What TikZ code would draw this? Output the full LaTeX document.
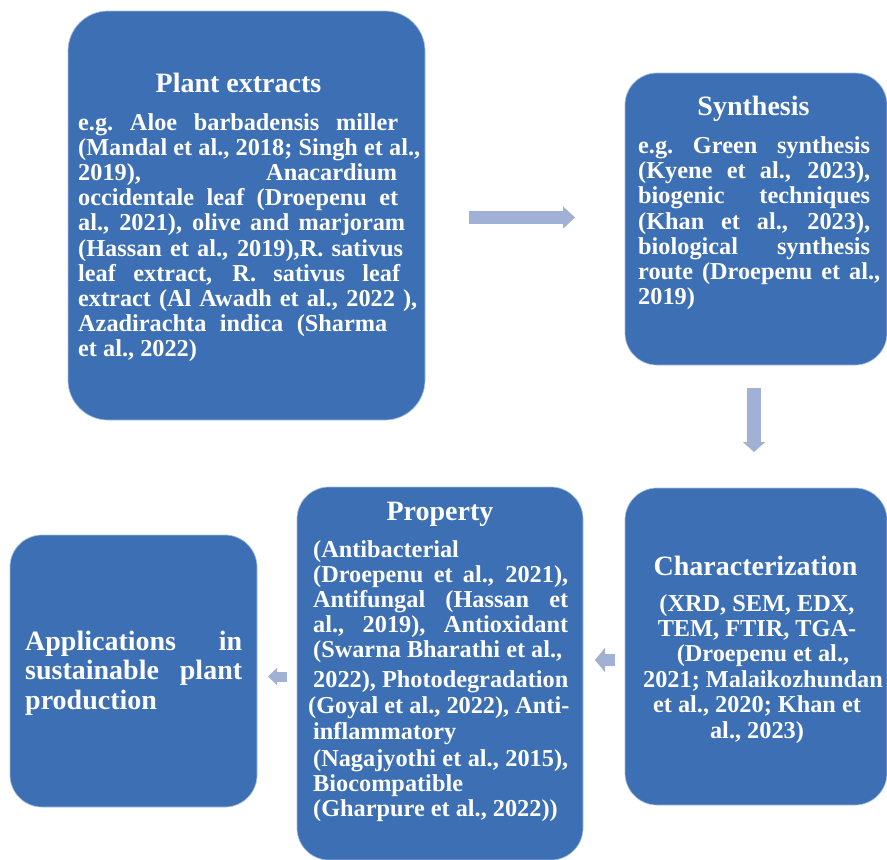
\documentclass[tikz,border=0pt]{standalone}
\usepackage{fontspec}
\setmainfont{Liberation Serif}
\usetikzlibrary{arrows.meta}

\definecolor{boxblue}{RGB}{60,111,180}
\definecolor{arrowfill}{RGB}{160,177,213}

% one justified line of a given width; the spaces share the stretch evenly
\newcommand{\jline}[2]{\makebox[#1][s]{\spaceskip=0.25em plus 1fil\relax
  \xspaceskip=\spaceskip #2}}
% a line set at its natural width with plain word spaces
\newcommand{\nline}[1]{\mbox{\spaceskip=0.25em\relax\xspaceskip=\spaceskip #1}}

\begin{document}
\begin{tikzpicture}[x=1pt,y=-1pt,
  card/.style={draw=white!55!boxblue, line width=0.7pt, fill=boxblue,
    rounded corners=#1, inner sep=0pt},
  card/.default=32pt,
  heading/.style={text=white, inner sep=0pt, anchor=base,
    font=\bfseries\fontsize{28}{30}\selectfont},
  bodytext/.style={text=white, inner sep=0pt, text width=#1, align=left,
    font=\bfseries\fontsize{24.3}{25.2}\selectfont},
  bodytext/.default=360pt,
  blockarrow/.style n args={3}{draw=arrowfill, line width=#1,
    -{Triangle[width=#2,length=#3,line width=0.1pt]}}
]
\useasboundingbox (0,0) rectangle (887,860);

% ---- boxes ----
\node[card=40pt, minimum width=357pt, minimum height=409pt] (plant) at (246.5,215.5) {};
\node[card, minimum width=262pt, minimum height=292pt] (synth) at (756,219) {};
\node[card, minimum width=262pt, minimum height=317pt] (charac) at (756,646.5) {};
\node[card, minimum width=286pt, minimum height=373pt] (prop) at (440,673.5) {};
\node[card, minimum width=247pt, minimum height=272pt] (appl) at (133.5,671) {};

% ---- Plant extracts ----
\node[heading] (plantT) at (238.5,92) {Plant extracts};
\node[bodytext, anchor=base west] (plantB) at (78,130) {%
\jline{320pt}{e.g. Aloe barbadensis miller}\\
\jline{342pt}{(Mandal et al., 2018; Singh et al.,}\\
\jline{319pt}{2019), Anacardium}\\
\jline{320pt}{occidentale leaf (Droepenu et}\\
\jline{327pt}{al., 2021), olive and marjoram}\\
\jline{325pt}{(Hassan et al., 2019),R. sativus}\\
\jline{322pt}{leaf extract, R. sativus leaf}\\
\jline{339pt}{extract (Al Awadh et al., 2022 ),}\\
\jline{309pt}{Azadirachta indica (Sharma}\\
\nline{et al., 2022)}};

% ---- Synthesis ----
\node[heading] (synthT) at (753.5,115) {Synthesis};
\node[bodytext, anchor=base west] (synthB) at (638,153.5) {%
\jline{232pt}{e.g. Green synthesis}\\
\jline{232pt}{(Kyene et al., 2023),}\\
\jline{232pt}{biogenic techniques}\\
\jline{232pt}{(Khan et al., 2023),}\\
\jline{232pt}{biological synthesis}\\
\jline{242pt}{route (Droepenu et al.,}\\
\nline{2019)}};

% ---- Characterization ----
\node[heading] (characT) at (755.5,575) {Characterization};
\node[bodytext=262pt, align=center, anchor=base,
  font=\bfseries\fontsize{24.3}{25.4}\selectfont] (characB) at (757,611) {%
\nline{(XRD, SEM, EDX,}\\
\nline{TEM, FTIR, TGA-}\\
\hspace*{12pt}\nline{(Droepenu et al.,}\\
\hspace*{12pt}\nline{2021; Malaikozhundan}\\
\nline{et al., 2020; Khan et}\\
\nline{al., 2023)}};

% ---- Property ----
\node[heading] (propT) at (440,520) {Property};
\node[bodytext, anchor=base west] (propB) at (313,557) {%
\nline{(Antibacterial}\\
\jline{255pt}{(Droepenu et al., 2021),}\\
\jline{255pt}{Antifungal (Hassan et}\\
\jline{255pt}{al., 2019), Antioxidant}\\
\jline{249pt}{(Swarna Bharathi et al.,}\\[4.8pt]
\jline{255pt}{2022), Photodegradation}\\[0.8pt]
\hspace*{-5pt}\jline{259pt}{(Goyal et al., 2022), Anti-}\\
\nline{inflammatory}\\[1.8pt]
\jline{255pt}{(Nagajyothi et al., 2015),}\\
\nline{Biocompatible}\\
\nline{(Gharpure et al., 2022))}};

% ---- Applications ----
\node[bodytext, anchor=base west,
  font=\bfseries\fontsize{28}{29.5}\selectfont] (applB) at (25,650) {%
\jline{217pt}{Applications in}\\
\jline{217pt}{sustainable plant}\\
\nline{production}};

% ---- flow arrows ----
\coordinate (a1s) at (469,217.5);
\coordinate (a1e) at (575,217.5);
\coordinate (a2s) at (754,388);
\coordinate (a2e) at (754,452);
\coordinate (a3s) at (615,660);
\coordinate (a3e) at (595,660);
\coordinate (a4s) at (287,676.5);
\coordinate (a4e) at (268,676.5);

\draw[blockarrow={13pt}{22pt}{12pt}] (a1s) -- (a1e);
\draw[blockarrow={14pt}{22pt}{10pt}] (a2s) -- (a2e);
\draw[blockarrow={12pt}{24pt}{10pt}] (a3s) -- (a3e);
\draw[blockarrow={10pt}{17pt}{9pt}] (a4s) -- (a4e);
\end{tikzpicture}
\end{document}
